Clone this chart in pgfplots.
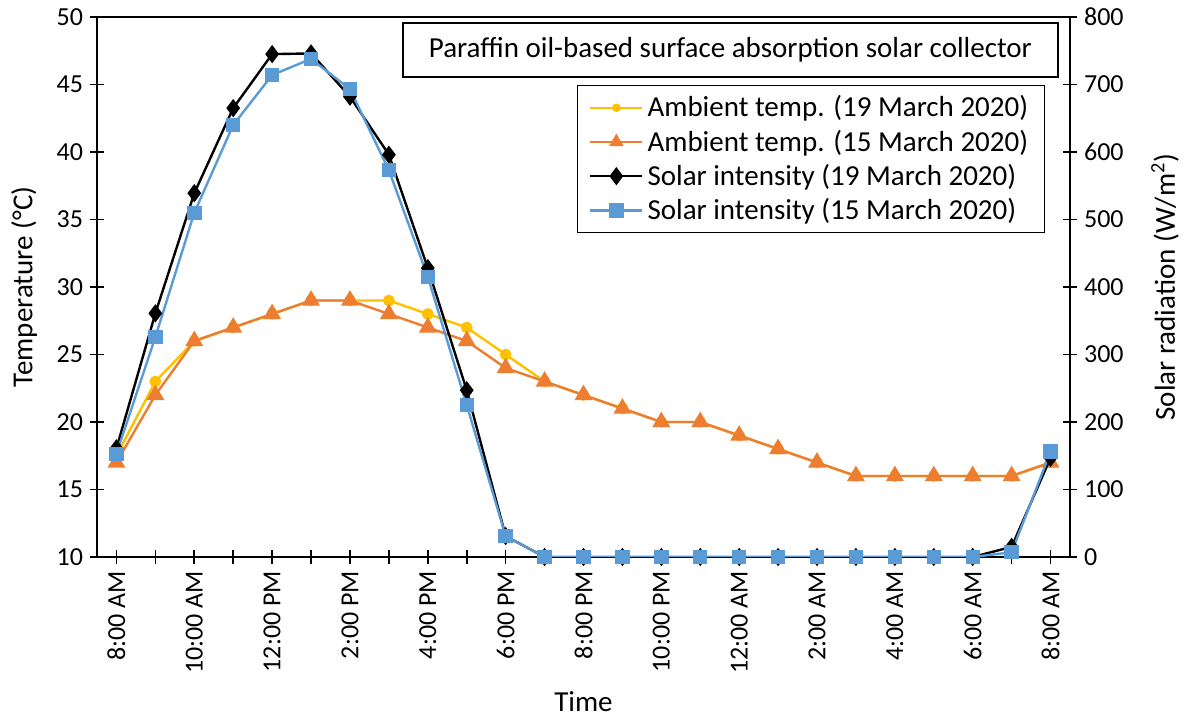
\documentclass[border=0pt]{standalone}
\usepackage{pgfplots}
\pgfplotsset{compat=1.18}
\usepackage{fontspec}
\setmainfont{Carlito}

\definecolor{ambA}{HTML}{FFC000}
\definecolor{ambB}{HTML}{ED7D31}
\definecolor{solB}{HTML}{5B9BD5}

% hour index 0..24 = 8:00 AM .. 8:00 AM next day
\pgfplotstableread{
h  ta19  ta15  s19  s15
0  17.5  17    161  153
1  23    22    361  326
2  26    26    539  510
3  27    27    665  640
4  28    28    745  714
5  29    29    746  738
6  29    29    682  693
7  29    28    596  573
8  28    27    428  415
9  27    26    247  225
10 25    24    31   31
11 23    23    0    0
12 22    22    0    0
13 21    21    0    0
14 20    20    0    0
15 20    20    0    0
16 19    19    0    0
17 18    18    0    0
18 17    17    0    0
19 16    16    0    0
20 16    16    0    0
21 16    16    0    0
22 16    16    0    0
23 16    16    15   7
24 17    17    147  156
}\datatable

\pgfplotsset{
  common/.style={
    scale only axis, width=486.5pt, height=270pt,
    xmin=-0.5, xmax=24.5,
    /pgf/number format/assume math mode=true,
    tick align=center, major tick length=7pt,
    every tick/.style={black, line width=0.8pt},
    axis line style={line width=1pt},
    tick label style={font=\fontsize{13}{15}\selectfont},
    label style={font=\fontsize{14.5}{17}\selectfont},
  }
}

\begin{document}
\begin{tikzpicture}
\useasboundingbox (-48.5pt,-82pt) rectangle (545.5pt,278.5pt);
\begin{axis}[common,
  ymin=10, ymax=50, ytick={10,15,...,50},
  xtick={0,...,24},
  xticklabels={8:00 AM,,10:00 AM,,12:00 PM,,2:00 PM,,4:00 PM,,6:00 PM,,8:00 PM,,10:00 PM,,12:00 AM,,2:00 AM,,4:00 AM,,6:00 AM,,8:00 AM},
  xticklabel style={rotate=90, anchor=east},
  xtick pos=bottom, ytick pos=left,
  ylabel={Temperature (°C)},
  ylabel style={at={(axis description cs:-0.075,0.5)}, anchor=center},
  xlabel={Time},
  xlabel style={at={(axis description cs:0.5,-0.268)}, anchor=center},
]
\addplot[ambA, line width=1.2pt, mark=*, mark size=2.3pt] table[x=h, y=ta19] {\datatable};
\addplot[ambB, line width=1.2pt, mark=triangle*, mark size=4pt] table[x=h, y=ta15] {\datatable};
\node[draw=black, line width=0.6pt, fill=white, minimum width=327.5pt, minimum height=27pt,
  font=\fontsize{14.5}{17}\selectfont] at (rel axis cs:0.651,0.939)
  {Paraffin oil-based surface absorption solar collector};
\end{axis}
\begin{axis}[common,
  ymin=0, ymax=800, ytick={0,100,...,800},
  axis y line*=right, axis x line=none,
  ylabel={Solar radiation (W/m\textsuperscript{2})},
  ylabel style={at={(axis description cs:1.0977,0.5)}, anchor=center, rotate=0},
  legend style={at={(0.974,0.874)}, anchor=north east, draw=black, line width=0.6pt,
    fill=white, font=\fontsize{14.5}{17}\selectfont, row sep=1pt,
    inner xsep=6pt, inner ysep=3pt},
  legend cell align=left,
  legend image code/.code={
    \draw[mark repeat=2, mark phase=2, #1] plot coordinates {(0pt,0pt) (13pt,0pt) (26pt,0pt)};},
]
\addlegendimage{ambA, line width=1.2pt, mark=*, mark size=1.5pt}
\addlegendentry{Ambient temp. (19 March 2020)}
\addlegendimage{ambB, line width=1.2pt, mark=triangle*, mark size=3pt}
\addlegendentry{Ambient temp. (15 March 2020)}
\addplot[black, line width=1.2pt, mark=diamond*, mark size=3.6pt] table[x=h, y=s19] {\datatable};
\addlegendentry{Solar intensity (19 March 2020)}
\addplot[solB, line width=1.2pt, mark=square*, mark size=3pt] table[x=h, y=s15] {\datatable};
\addlegendentry{Solar intensity (15 March 2020)}
\end{axis}
\end{tikzpicture}
\end{document}
